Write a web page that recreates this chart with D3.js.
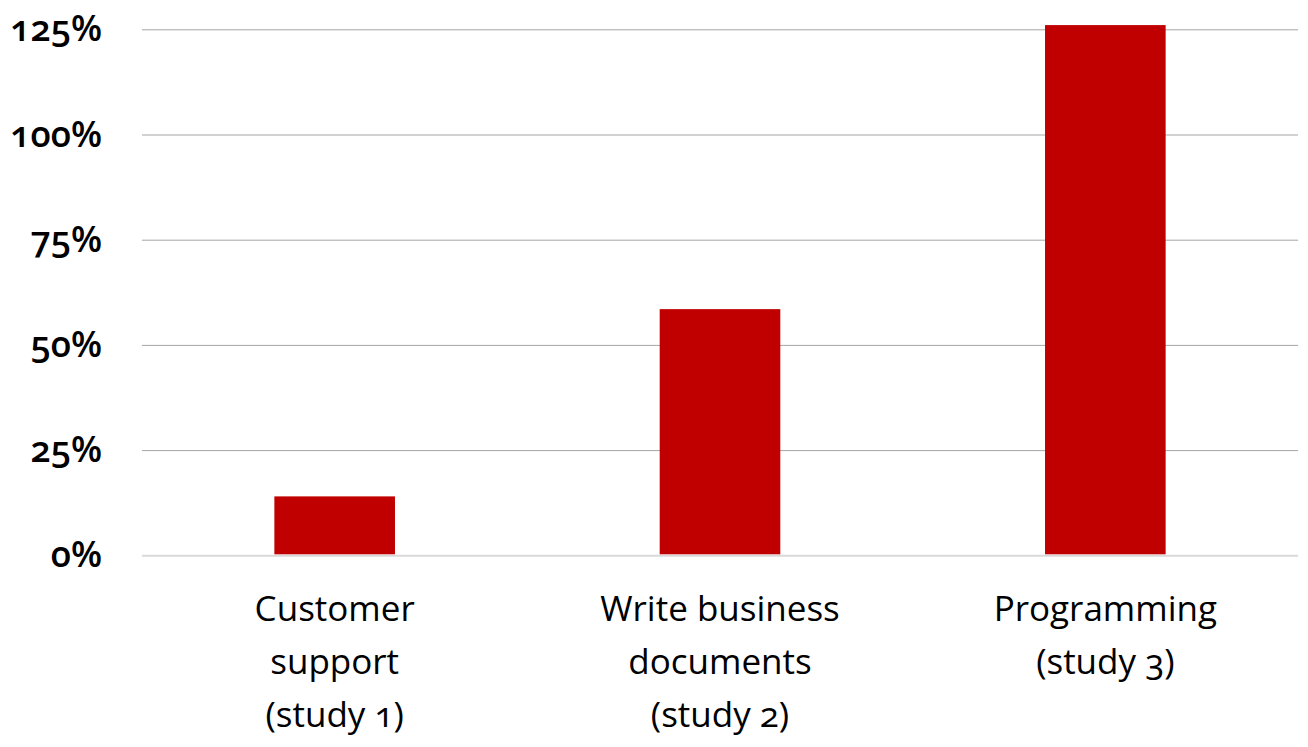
<!DOCTYPE html>
<html><head><meta charset="utf-8">
<script src="https://cdn.jsdelivr.net/npm/d3@7"></script>
<style>
body{margin:0;background:#fff;}
svg text{font-family:"Open Sans","Lato",sans-serif;font-variant-numeric:oldstyle-nums;font-feature-settings:"onum" 1;}
</style></head><body>
<svg id="c" width="1308" height="747"></svg>
<script>
const categories = [["Customer","support","(study 1)"],["Write business","documents","(study 2)"],["Programming","(study 3)"]];
const values = [14, 58.5, 126];
const ticks = [0,25,50,75,100,125];

(function(){
const svg = d3.select("#c");
const mLeft = 142, mRight = 1298, mTop = 29.3, mBottom = 555.3;
const x = d3.scaleBand().domain(d3.range(categories.length)).range([mLeft,mRight]).paddingInner(0.687).paddingOuter(0.3435);
const y = d3.scaleLinear().domain([0,125]).range([mBottom, mTop]);

const yAxis = d3.axisLeft(y).tickValues(ticks).tickSize(-(mRight-mLeft)).tickFormat(d=>d+"%");
const ga = svg.append("g").attr("transform",`translate(${mLeft},0)`).call(yAxis);
ga.select(".domain").remove();
ga.selectAll(".tick line").attr("stroke",d=>d===0?"#d9d9d9":"#a6a6a6").attr("stroke-width",d=>d===0?2:1);
ga.selectAll(".tick text").attr("x",-40).attr("font-size",36).attr("font-weight",600).attr("fill","#000").attr("dy","0.32em");

svg.append("g").selectAll("rect").data(values).join("rect")
  .attr("x",(d,i)=>x(i)).attr("width",x.bandwidth())
  .attr("y",d=>y(d)).attr("height",d=>y(0)-y(d)-1)
  .attr("fill","#c00000");

const lab = svg.append("g").selectAll("text").data(categories).join("text")
  .attr("text-anchor","middle").attr("font-size",35).attr("font-weight",500).attr("fill","#000")
  .attr("transform",(d,i)=>`translate(${x(i)+x.bandwidth()/2},0)`);
lab.selectAll("tspan").data(d=>d).join("tspan").attr("x",0).attr("y",(d,j)=>621+j*53).text(d=>d);
})();
</script></body></html>
